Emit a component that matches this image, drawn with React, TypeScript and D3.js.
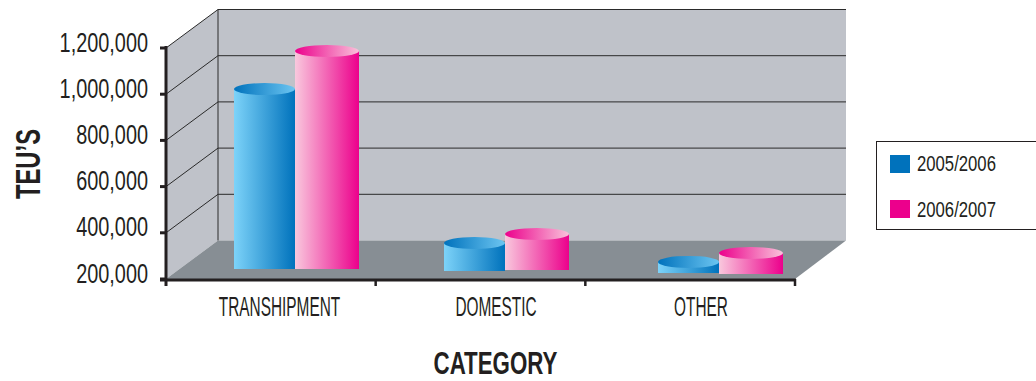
import React from "react";
import * as d3 from "d3";

// Container volumes by category, in TEUs
const categories = ["TRANSHIPMENT", "DOMESTIC", "OTHER"];
const seriesNames = ["2005/2006", "2006/2007"];
const values2005 = [979000, 321000, 248000];
const values2006 = [1144000, 356000, 291000];
const yTicks = [200000, 400000, 600000, 800000, 1000000, 1200000];

const FONT = "'Liberation Sans', sans-serif";
const INK = "#231f20";

// Front face of the plot box and the depth of the 3D shift
const X0 = 166;
const X1 = 795;
const Y_BOTTOM = 279;
const Y_TOP = 48;
const DX = 52;
const DY = -38.5;

// Small per-bar lift of the base above the floor's front edge
const BASE_LIFT = [
  [10, 8, 6],
  [10, 9, 5],
];
const GROUP_NUDGE = [0, -2, 0];

const y = d3.scaleLinear().domain([200000, 1200000]).range([Y_BOTTOM, Y_TOP]);
const xAxis = d3.scaleLinear().domain([0, 3]).range([X0, X1]);
const groupX = d3.scalePoint<string>().domain(categories).range([296, 720]);
const fmt = d3.format(",");

const wallPath = d3.line()([[X0, Y_TOP], [X0 + DX, Y_TOP + DY], [X0 + DX, Y_BOTTOM + DY], [X0, Y_BOTTOM]]) + "Z";
const floorPath = d3.line()([[X0, Y_BOTTOM], [X0 + DX, Y_BOTTOM + DY], [846, Y_BOTTOM + DY], [X1, Y_BOTTOM]]) + "Z";

function Gradient({ id, from, to }: { id: string; from: string; to: string }) {
  return (
    <linearGradient id={id} x1="0" x2="1" y1="0" y2="0">
      <stop offset="0" stopColor={from} />
      <stop offset="1" stopColor={to} />
    </linearGradient>
  );
}

function Cylinder({ x, w, top, base, body, cap }: { x: number; w: number; top: number; base: number; body: string; cap: string }) {
  return (
    <g>
      <rect x={x} y={top} width={w} height={base - top} fill={`url(#${body})`} />
      <ellipse cx={x + w / 2} cy={top} rx={w / 2} ry={6} fill={`url(#${cap})`} />
    </g>
  );
}

function Label({ x, y, text, size, sx, anchor, weight }: { x: number; y: number; text: string; size: number; sx: number; anchor: string; weight?: number }) {
  return (
    <text
      transform={`translate(${x},${y}) scale(${sx},1)`}
      fontFamily={FONT}
      fontSize={size}
      fontWeight={weight ?? 400}
      fill={INK}
      textAnchor={anchor}
    >
      {text}
    </text>
  );
}

export default function App() {
  const series = [
    { values: values2005, x0: -62, w: 61, body: "blueBody", cap: "blueCap" },
    { values: values2006, x0: -1, w: 64, body: "pinkBody", cap: "pinkCap" },
  ];
  return (
    <svg width={1036} height={381} style={{ position: "fixed", left: 0, top: 0, background: "#fff" }}>
      <defs>
        <Gradient id="blueBody" from="#7dd3f9" to="#0072bc" />
        <Gradient id="blueCap" from="#0072bc" to="#6cc5f1" />
        <Gradient id="pinkBody" from="#f9c8dd" to="#ec008c" />
        <Gradient id="pinkCap" from="#ec008c" to="#f9c2da" />
      </defs>

      {/* Walls and floor of the plot box */}
      <rect x={X0 + DX} y={Y_TOP + DY} width={846 - X0 - DX} height={Y_BOTTOM - Y_TOP} fill="#bfc2c9" />
      <path d={wallPath} fill="#bfc2c9" />
      <path d={floorPath} fill="#878e94" />

      {/* Gridlines across the back wall and down the side wall */}
      {yTicks.map((t) => (
        <g key={t} stroke="#2a2a2a" strokeWidth={1} fill="none">
          {t > 200000 && <line x1={X0 + DX} x2={846} y1={y(t) + DY} y2={y(t) + DY} />}
          {t > 200000 && <line x1={X0} x2={X0 + DX} y1={y(t)} y2={y(t) + DY} />}
        </g>
      ))}
      <line x1={X0 + DX} x2={X0 + DX} y1={Y_TOP + DY} y2={Y_BOTTOM + DY} stroke="#2a2a2a" />

      {/* Cylinders */}
      {categories.map((c, i) => (
        <g key={c}>
          {series.map((s, j) => {
            const base = Y_BOTTOM - BASE_LIFT[j][i];
            const top = y(s.values[i]) - BASE_LIFT[j][i];
            return (
              <Cylinder key={j} x={groupX(c)! + GROUP_NUDGE[i] + s.x0} w={s.w} top={top} base={base} body={s.body} cap={s.cap} />
            );
          })}
        </g>
      ))}

      {/* Axes */}
      <g stroke={INK} fill="none">
        <line x1={X0} x2={X0} y1={Y_TOP - 2} y2={Y_BOTTOM + 7} strokeWidth={3} />
        <line x1={X0 - 6} x2={X1 + 1} y1={Y_BOTTOM + 1} y2={Y_BOTTOM + 1} strokeWidth={3} />
        {yTicks.map((t) => (
          <line key={t} x1={X0 - 6} x2={X0} y1={y(t)} y2={y(t)} strokeWidth={3} />
        ))}
        {d3.range(1, 4).map((k) => (
          <line key={k} x1={xAxis(k)} x2={xAxis(k)} y1={Y_BOTTOM} y2={Y_BOTTOM + 7} strokeWidth={2.5} />
        ))}
      </g>

      {/* Axis text */}
      {yTicks.map((t) => (
        <Label key={t} x={148} y={y(t) + 3.5} text={fmt(t)} size={28} sx={0.71} anchor="end" />
      ))}
      {categories.map((c, i) => (
        <Label key={c} x={[279.5, 496, 701][i]} y={315.5} text={c} size={27} sx={0.57} anchor="middle" />
      ))}
      <Label x={495.5} y={374} text="CATEGORY" size={31} sx={0.72} anchor="middle" weight={700} />
      <g transform="translate(40,164) rotate(-90)">
        <Label x={0} y={0} text="TEU’S" size={35} sx={0.68} anchor="middle" weight={700} />
      </g>

      {/* Legend */}
      <rect x={876.5} y={141.5} width={170} height={88} fill="#fff" stroke={INK} />
      {seriesNames.map((n, i) => (
        <g key={n}>
          <rect x={890} y={155 + i * 45} width={20} height={18} fill={i === 0 ? "#0072bc" : "#ec008c"} />
          <Label x={917} y={171 + i * 46} text={n} size={22} sx={0.76} anchor="start" />
        </g>
      ))}
    </svg>
  );
}
